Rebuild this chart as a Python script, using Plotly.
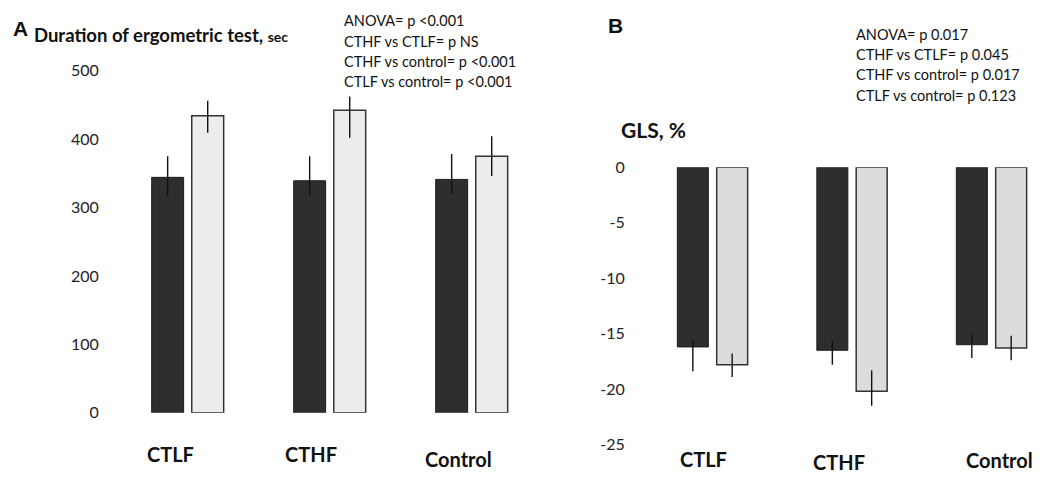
import plotly.graph_objects as go

# ---------------- data ----------------
categories = ["CTLF", "CTHF", "Control"]

# Panel A: duration of ergometric test, sec
dur_dark = [344, 339, 341]
dur_dark_up = [31, 36, 37]
dur_dark_down = [27, 21, 21]
dur_light = [434, 442, 375]
dur_light_up = [22, 20, 29]
dur_light_down = [25, 40, 29]
a_ticks = [0, 100, 200, 300, 400, 500]
a_stats = ["ANOVA= p <0.001", "CTHF vs CTLF= p NS",
           "CTHF vs control= p <0.001", "CTLF vs control= p <0.001"]

# Panel B: GLS, %
gls_dark = [-16.2, -16.5, -16.0]
gls_dark_up = [0.6, 0.85, 0.9]
gls_dark_down = [2.2, 1.3, 1.2]
gls_light = [-17.8, -20.2, -16.3]
gls_light_up = [1.0, 1.9, 1.1]
gls_light_down = [1.1, 1.3, 1.1]
b_ticks = [0, -5, -10, -15, -20, -25]
b_stats = ["ANOVA= p 0.017", "CTHF vs CTLF= p 0.045",
           "CTHF vs control= p 0.017", "CTLF vs control= p 0.123"]

# ---------------- style ----------------
W, H = 1040, 484
OX, OY = 8, 8          # page body margin offset
FONT = "Lato"
DARK = "#2e2e2e"
LIGHT_A = "#ececec"
LIGHT_B = "#dcdcdc"
x_idx = list(range(len(categories)))


def px2paper_x(p):
    return (p - OX) / W


def px2paper_y(p):
    return (H - (p - OY)) / H


fig = go.Figure()


def add_pair(xa, ya, dark, dup, ddn, light, lup, ldn, light_col, width, off_d, off_l):
    err = dict(type="data", symmetric=False, color="#111111", thickness=1.4, width=0)
    fig.add_trace(go.Bar(
        x=x_idx, y=dark, xaxis=xa, yaxis=ya, width=width, offset=off_d,
        marker=dict(color=DARK, line=dict(color="#1a1a1a", width=1)),
        error_y=dict(array=dup, arrayminus=ddn, **err),
        cliponaxis=False, showlegend=False, hoverinfo="y"))
    fig.add_trace(go.Bar(
        x=x_idx, y=light, xaxis=xa, yaxis=ya, width=width, offset=off_l,
        marker=dict(color=light_col, line=dict(color="#333333", width=1.5)),
        error_y=dict(array=lup, arrayminus=ldn, **err),
        cliponaxis=False, showlegend=False, hoverinfo="y"))


add_pair("x", "y", dur_dark, dur_dark_up, dur_dark_down,
         dur_light, dur_light_up, dur_light_down, LIGHT_A, 0.225, -0.255, 0.027)
add_pair("x2", "y2", gls_dark, gls_dark_up, gls_dark_down,
         gls_light, gls_light_up, gls_light_down, LIGHT_B, 0.222, -0.252, 0.030)

tickfont = dict(family=FONT, size=16, color="#222222")

# panel A axes: group centre 0 at px 187.9, 142 px per category
a_left, a_right = 106, 540
a_c0, a_step = 187.9, 142.0
fig.update_layout(
    xaxis=dict(domain=[px2paper_x(a_left), px2paper_x(a_right)],
               range=[(a_left - a_c0) / a_step, (a_right - a_c0) / a_step],
               showticklabels=False, showgrid=False, zeroline=False, showline=False),
    yaxis=dict(domain=[px2paper_y(419), px2paper_y(62.7)], range=[0, 500],
               tickvals=a_ticks, ticktext=[str(v) for v in a_ticks],
               ticks="outside", ticklen=3, tickcolor="white",
               tickfont=tickfont, showgrid=False, zeroline=False, showline=False,
               anchor="x"),
)

# panel B axes: group centre 0 at px 712.5, 139.5 px per category
b_left, b_right = 632, 1046
b_c0, b_step = 712.5, 139.5
fig.update_layout(
    xaxis2=dict(domain=[px2paper_x(b_left), px2paper_x(b_right)],
                range=[(b_left - b_c0) / b_step, (b_right - b_c0) / b_step],
                showticklabels=False, showgrid=False, zeroline=False, showline=False,
                anchor="y2"),
    yaxis2=dict(domain=[px2paper_y(452), px2paper_y(163.3)], range=[-25, 0],
                tickvals=b_ticks, ticktext=[str(v) for v in b_ticks],
                ticks="outside", ticklen=3, tickcolor="white",
                tickfont=tickfont, showgrid=False, zeroline=False, showline=False,
                anchor="x2"),
)

ann = []
# category labels
a_lab_shift = [-0.126, -0.133, -0.091]
a_lab_y = [462, 462, 467]
b_lab_shift = [-0.068, -0.096, 0.056]
b_lab_y = [467, 470, 468]
for i, c in enumerate(categories):
    ann.append(dict(x=i + a_lab_shift[i], xref="x", y=px2paper_y(a_lab_y[i]), yref="paper",
                    text=f"<b>{c}</b>", showarrow=False, xanchor="center", yanchor="middle",
                    font=dict(family=FONT, size=20, color="#111111")))
    ann.append(dict(x=i + b_lab_shift[i], xref="x2", y=px2paper_y(b_lab_y[i]), yref="paper",
                    text=f"<b>{c}</b>", showarrow=False, xanchor="center", yanchor="middle",
                    font=dict(family=FONT, size=20, color="#111111")))

# panel letters
ann.append(dict(x=px2paper_x(11), y=px2paper_y(19), xref="paper", yref="paper",
                text="<b>A</b>", showarrow=False, xanchor="left", yanchor="middle",
                font=dict(family="Liberation Sans", size=21, color="#111111")))
ann.append(dict(x=px2paper_x(606), y=px2paper_y(16), xref="paper", yref="paper",
                text="<b>B</b>", showarrow=False, xanchor="left", yanchor="middle",
                font=dict(family="Liberation Sans", size=21, color="#111111")))

# titles
ann.append(dict(x=px2paper_x(32), y=px2paper_y(26), xref="paper", yref="paper",
                text="<b>Duration of ergometric test, </b><b><span style='font-size:14px'>sec</span></b>",
                showarrow=False, xanchor="left", yanchor="middle",
                font=dict(family=FONT, size=18.5, color="#111111")))
ann.append(dict(x=px2paper_x(619), y=px2paper_y(124), xref="paper", yref="paper",
                text="<b>GLS, %</b>", showarrow=False, xanchor="left", yanchor="middle",
                font=dict(family=FONT, size=21, color="#111111")))

# stats text
for k, line in enumerate(a_stats):
    ann.append(dict(x=px2paper_x(342), y=px2paper_y(11 + 21.2 * k), xref="paper", yref="paper",
                    text=line, showarrow=False, xanchor="left", yanchor="middle",
                    font=dict(family=FONT, size=14.5, color="#111111")))
for k, line in enumerate(b_stats):
    ann.append(dict(x=px2paper_x(854), y=px2paper_y(25 + 21.1 * k), xref="paper", yref="paper",
                    text=line, showarrow=False, xanchor="left", yanchor="middle",
                    font=dict(family=FONT, size=14.5, color="#111111")))

fig.update_layout(
    width=W, height=H, margin=dict(l=0, r=0, t=0, b=0),
    paper_bgcolor="white", plot_bgcolor="white",
    barmode="overlay", annotations=ann,
    font=dict(family=FONT),
)

fig.write_html("out.html")
